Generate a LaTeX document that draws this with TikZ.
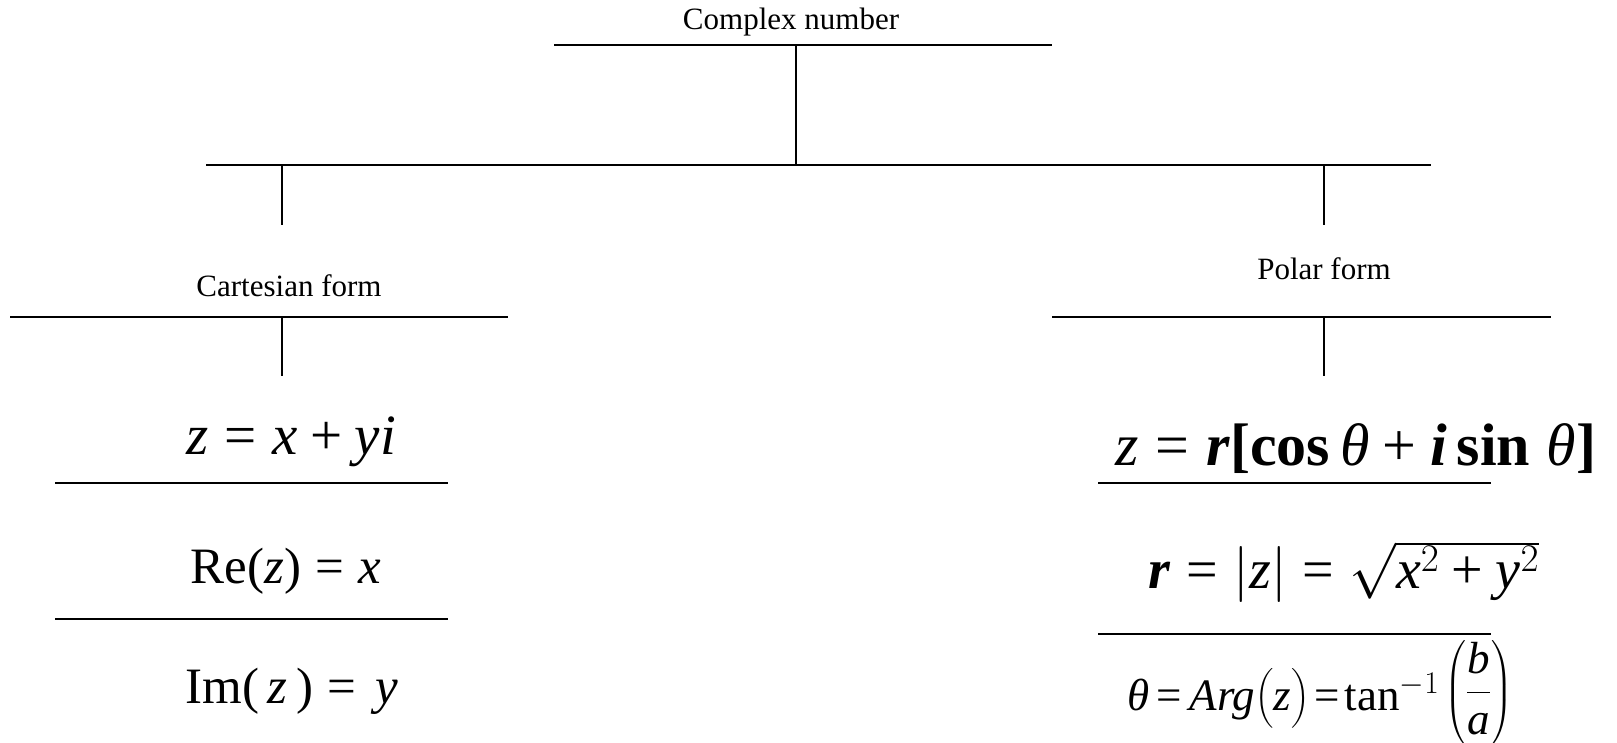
\RequirePackage{fix-cm}
\documentclass[tikz,border=0pt]{standalone}
\usepackage{amsmath}
\usepackage{fontspec}
\setmainfont{Liberation Serif}
\newcommand{\vi}[1]{\textit{#1}}
\newcommand{\vb}[1]{\textbf{\textit{#1}}}
\newcommand{\eq}{\mathrel{\text{=}}}
\newcommand{\pl}{\mathbin{\text{+}}}
\newcommand{\lp}{\mathopen{\text{(}}}
\newcommand{\rp}{\mathclose{\text{)}}}
\tikzset{
  rulepath/.style={line width=2pt, line cap=butt},
  lbl/.style={font=\fontsize{31}{37}\selectfont, anchor=base, inner sep=0pt},
  fbig/.style={font=\fontsize{57}{66}\selectfont, anchor=base, inner sep=0pt},
  fmid/.style={font=\fontsize{51}{60}\selectfont, anchor=base, inner sep=0pt},
  fpol/.style={font=\fontsize{60}{70}\selectfont, anchor=base, inner sep=0pt},
  fabs/.style={font=\fontsize{56}{66}\selectfont, anchor=base, inner sep=0pt},
  farg/.style={font=\fontsize{45}{54}\selectfont, anchor=base, inner sep=0pt}
}
\begin{document}
\begin{tikzpicture}[x=1pt,y=-1pt]
\useasboundingbox (0,0) rectangle (1617,743);
% top label
\node[lbl] (cn) at (791,30) {Complex number};
\coordinate (cnL) at (554,45);
\coordinate (cnR) at (1052,45);
\coordinate (cnB) at (796,45);
\coordinate (hub) at (796,165);
\coordinate (hubL) at (206,165);
\coordinate (hubR) at (1431,165);
\coordinate (cartT) at (282,165);
\coordinate (cartD) at (282,225);
\coordinate (polT) at (1324,165);
\coordinate (polD) at (1324,225);
\draw[rulepath] (cnL) -- (cnR);
\draw[rulepath] (cnB) -- (hub);
\draw[rulepath] (hubL) -- (hubR);
\draw[rulepath] (cartT) -- (cartD);
\draw[rulepath] (polT) -- (polD);
% second level labels
\node[lbl] (cart) at (289,297) {Cartesian form};
\node[lbl] (pol) at (1324,280) {Polar form};
\coordinate (cartL) at (10,317);
\coordinate (cartR) at (508,317);
\coordinate (cartB) at (282,317);
\coordinate (cartE) at (282,376);
\coordinate (polL) at (1052,317);
\coordinate (polR) at (1551,317);
\coordinate (polB) at (1324,317);
\coordinate (polE) at (1324,376);
\draw[rulepath] (cartL) -- (cartR);
\draw[rulepath] (cartB) -- (cartE);
\draw[rulepath] (polL) -- (polR);
\draw[rulepath] (polB) -- (polE);
% Cartesian formulas
\node[fbig] (c1) at (291,454) {$\vi{z} \eq \vi{x} \pl \vi{yi}$};
\node[fmid] (c2) at (286,583) {$\mathrm{Re}\lp\vi{z}\rp \eq \vi{x}$};
\node[fmid] (c3) at (292,703) {$\mathrm{Im}\lp\,\vi{z}\,\rp \eq \mkern2mu\vi{y}$};
\coordinate (cl1L) at (55,483);
\coordinate (cl1R) at (448,483);
\coordinate (cl2L) at (55,619);
\coordinate (cl2R) at (448,619);
\draw[rulepath] (cl1L) -- (cl1R);
\draw[rulepath] (cl2L) -- (cl2R);
% Polar formulas
\node[fpol] (p1) at (1356,465) {$\vi{z} \eq \vb{r}\textbf{[}\textbf{cos}\,\vi{θ} \pl \vb{i}\,\textbf{sin}\;\vi{θ}\textbf{]}$};
\node[fabs] (p2) at (1344,588) {$\vb{r} \eq \left|\vi{z}\right| \eq \sqrt{\vi{x}^{2} \pl \vi{y}^{2}}$};
\node[farg] (p3) at (1320,710) {$\vi{θ}\mkern3mu\text{=}\mkern3mu\vi{Arg}\bigl(\vi{z}\bigr)\mkern2mu\text{=}\mkern2mu\mathrm{tan}^{-1}\mkern2mu\raisebox{6pt}{$\displaystyle\left(\dfrac{\vi{b}}{\vi{a}}\right)$}$};
\coordinate (pl1L) at (1098,483);
\coordinate (pl1R) at (1491,483);
\coordinate (pl2L) at (1098,634);
\coordinate (pl2R) at (1491,634);
\draw[rulepath] (pl1L) -- (pl1R);
\draw[rulepath] (pl2L) -- (pl2R);
\end{tikzpicture}
\end{document}
